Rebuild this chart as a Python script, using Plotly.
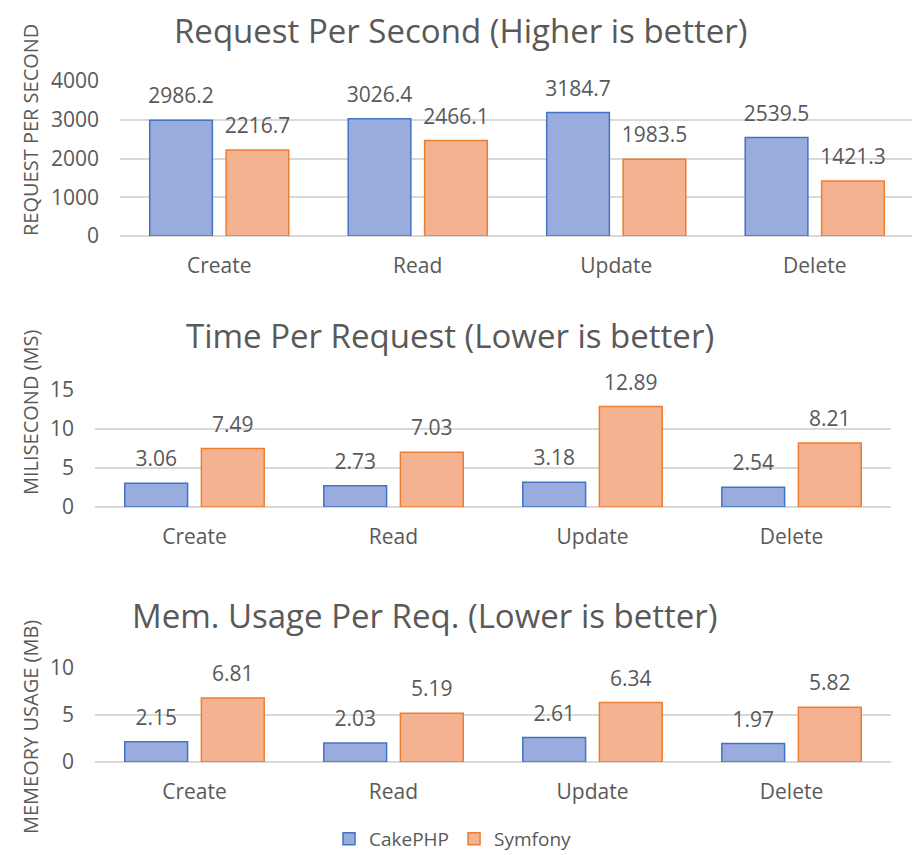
import plotly.graph_objects as go

categories = ["Create", "Read", "Update", "Delete"]
series_names = ["CakePHP", "Symfony"]

rps_cakephp = [2986.2, 3026.4, 3184.7, 2539.5]
rps_symfony = [2216.7, 2466.1, 1983.5, 1421.3]

tpr_cakephp = [3.06, 2.73, 3.18, 2.54]
tpr_symfony = [7.49, 7.03, 12.89, 8.21]

mem_cakephp = [2.15, 2.03, 2.61, 1.97]
mem_symfony = [6.81, 5.19, 6.34, 5.82]

titles = ["Request Per Second (Higher is better)",
          "Time Per Request (Lower is better)",
          "Mem. Usage Per Req. (Lower is better)"]
y_titles = ["REQUEST PER SECOND", "MILISECOND (MS)", "MEMEORY USAGE (MB)"]

FONT = "Open Sans"
GRAY = "#595959"
GRID = "#D9D9D9"
FILL = ["#98ACDD", "#F5B291"]
EDGE = ["#4472C4", "#ED7D31"]

OFF = 8                      # page body margin in the browser
W, H = 920 - OFF, 855 - OFF  # visible figure size
BARGAP = 0.23

def px_x(p):
    return (p - OFF) / W

def px_y(p):
    return 1 - (p - OFF) / H

fig = go.Figure()

panels = [
    (rps_cakephp, rps_symfony, [0, 4000], 1000),
    (tpr_cakephp, tpr_symfony, [0, 15], 5),
    (mem_cakephp, mem_symfony, [0, 10], 5),
]
# reference-pixel layout of the plot areas (left, right, top, bottom)
boxes = [(120, 914, 81, 236), (95, 891, 390, 507), (95, 891, 668, 762)]
title_pos = [(460, 30), (450, 336), (425, 615)]
ytitle_pos = [130, 413, 727]

def fmt(v):
    return f"{v:g}"

for i, (a, b, rng, dt) in enumerate(panels):
    xa = "x" if i == 0 else f"x{i+1}"
    ya = "y" if i == 0 else f"y{i+1}"
    for j, vals in enumerate([a, b]):
        fig.add_trace(go.Bar(
            x=categories, y=vals, name=series_names[j],
            legendgroup=series_names[j], showlegend=(i == 0),
            offsetgroup=series_names[j],
            marker=dict(color=FILL[j], line=dict(color=EDGE[j], width=1.5)),
            hoverinfo="skip",
            xaxis=xa, yaxis=ya,
        ))
    for j, vals in enumerate([a, b]):
        fig.add_trace(go.Scatter(
            x=categories, y=vals, mode="markers+text",
            offsetgroup=series_names[j], showlegend=False,
            text=[fmt(v) for v in vals], textposition="top center",
            marker=dict(size=17, color="rgba(0,0,0,0)"),
            textfont=dict(family=FONT, size=21, color=GRAY),
            cliponaxis=False, hoverinfo="skip",
            xaxis=xa, yaxis=ya,
        ))
    l, r, t, bt = boxes[i]
    xkey = "xaxis" if i == 0 else f"xaxis{i+1}"
    ykey = "yaxis" if i == 0 else f"yaxis{i+1}"
    fig.update_layout(**{
        xkey: dict(domain=[px_x(l), px_x(r)], anchor=ya, showgrid=False,
                   showline=False, zeroline=False, ticks="",
                   tickfont=dict(family=FONT, size=21, color=GRAY),
                   ticklabelstandoff=15, fixedrange=True, automargin=False),
        ykey: dict(domain=[px_y(bt), px_y(t)], anchor=xa, range=rng,
                   dtick=dt, showgrid=True, gridcolor=GRID, gridwidth=1.5,
                   zeroline=True, zerolinecolor=GRID, zerolinewidth=1.5,
                   showline=False, ticks="",
                   tickfont=dict(family=FONT, size=21, color=GRAY),
                   ticklabelstandoff=20, fixedrange=True, automargin=False),
    })
    tx, ty = title_pos[i]
    fig.add_annotation(text=titles[i], xref="paper", yref="paper",
                       x=px_x(tx), y=px_y(ty), xanchor="center", yanchor="middle",
                       showarrow=False, borderpad=0,
                       font=dict(family=FONT, size=33, color=GRAY))
    fig.add_annotation(text=y_titles[i], xref="paper", yref="paper",
                       x=px_x(30), y=px_y(ytitle_pos[i]), xanchor="center",
                       yanchor="middle", textangle=-90, showarrow=False,
                       font=dict(family=FONT, size=20, color=GRAY))

fig.update_layout(
    width=W, height=H,
    margin=dict(l=0, r=0, t=0, b=0, autoexpand=False),
    paper_bgcolor="white", plot_bgcolor="white",
    barmode="group", bargap=BARGAP, bargroupgap=0.18,
    scattermode="group", scattergap=BARGAP,
    font=dict(family=FONT, color=GRAY),
    legend=dict(orientation="h", x=px_x(453), y=px_y(839), xanchor="center",
                yanchor="middle", font=dict(family=FONT, size=19, color=GRAY),
                itemwidth=30, tracegroupgap=0),
)

fig.write_html("out.html")
